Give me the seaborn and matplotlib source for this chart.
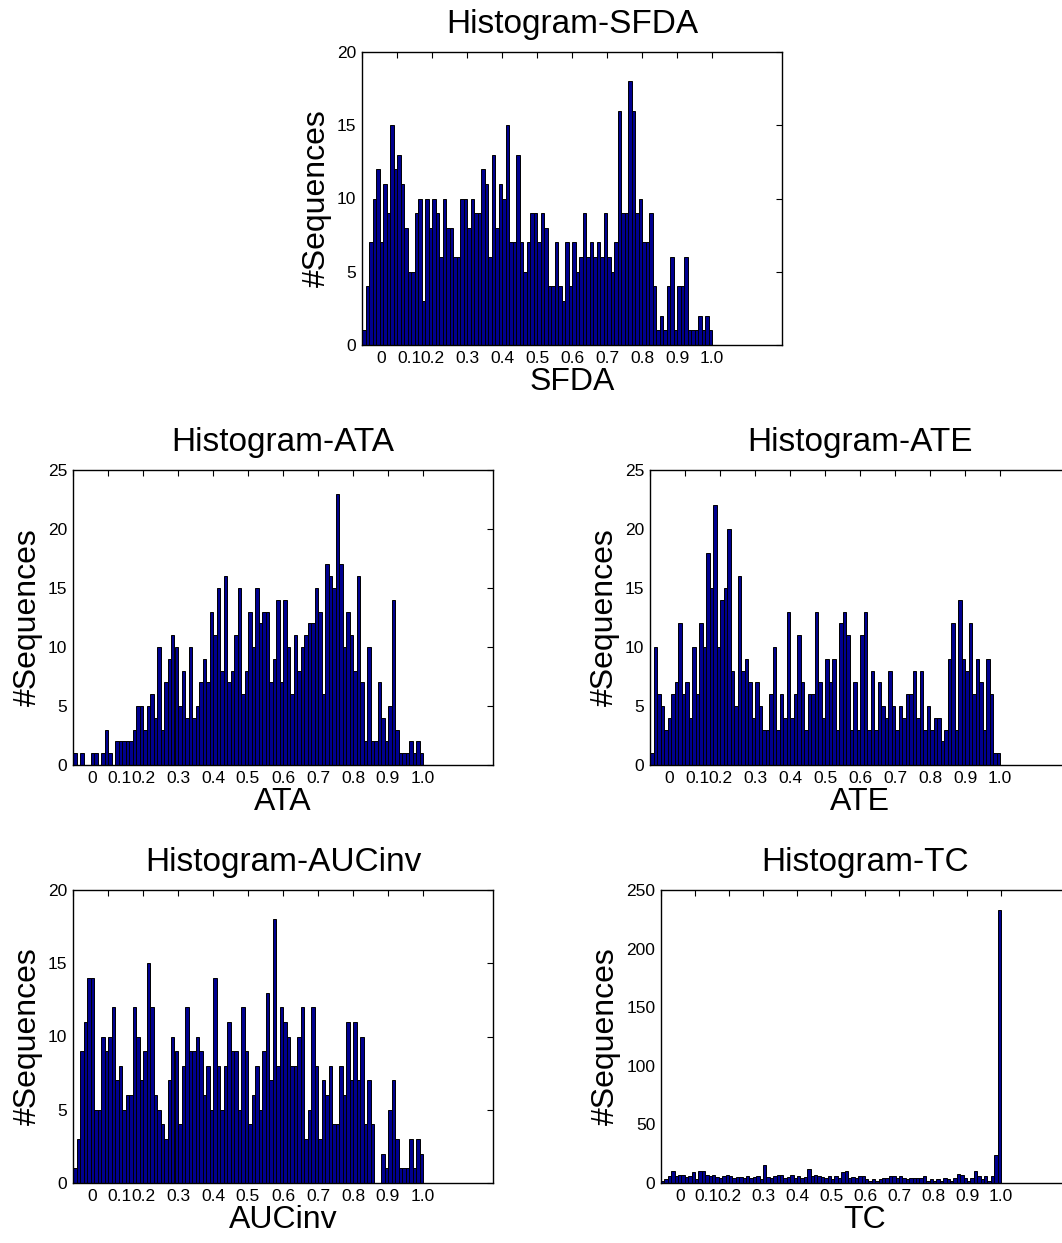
import numpy as np
import matplotlib
matplotlib.use("Agg")
import matplotlib.pyplot as plt
import matplotlib.transforms as mtransforms
import seaborn as sns

# bin counts, 100 bins of width 0.01 on [0, 1]
sfda = [1, 4, 7, 10, 12, 7, 11, 9, 15, 12, 13, 11, 8, 5, 5, 9, 10, 3, 10, 8,
        10, 9, 6, 10, 8, 8, 6, 6, 10, 10, 8, 10, 9, 9, 12, 11, 6, 13, 8, 11,
        10, 15, 7, 7, 13, 7, 5, 7, 9,
        9, 7, 9, 8, 4, 4, 7, 4, 3, 7, 4, 7, 5, 6, 9, 6, 7, 6, 7, 6,
        9, 6, 5, 7, 16, 9, 9, 18, 16, 9, 10, 7, 7, 9, 4, 1, 2, 1, 4, 6,
        1, 4, 4, 6, 1, 1, 1, 2, 1, 2, 1]

ata = [1, 0, 1, 0, 0, 1, 1, 0, 1, 3, 1, 0, 2, 2, 2, 2, 2, 3, 5, 5,
       3, 5, 6, 4, 10, 3, 7, 9, 11, 10, 5, 8, 4, 10, 4, 5, 7, 9, 7, 13,
       11, 15, 8, 16, 7, 8, 11, 15, 6, 8, 13, 10, 15, 12, 13, 13, 7, 9, 14, 7,
       14, 10, 6, 11, 8, 10, 11, 12, 12, 15, 13, 6, 17, 16, 15, 23, 17, 10, 13, 11,
       8, 16, 7, 2, 10, 2, 2, 7, 4, 2, 5, 14, 3, 1, 1, 1, 2, 1, 2, 1]

ate = [1, 10, 6, 5, 3, 4, 6, 7, 12, 6, 7, 4, 10, 6, 12, 10, 18, 15, 22, 10,
       14, 15, 20, 8, 5, 16, 8, 9, 7, 4, 7, 5, 3, 3, 6, 10, 3, 6, 4, 13,
       4, 6, 11, 7, 3, 6, 6, 13, 7, 4, 9, 7, 9, 3, 12, 13, 11, 3, 7, 3,
       11, 13, 3, 8, 3, 7, 5, 4, 8, 5, 3, 5, 4, 6, 6, 8, 4, 8, 3, 5,
       3, 4, 4, 2, 3, 9, 12, 3, 14, 9, 8, 12, 6, 9, 7, 3, 9, 6, 1, 1]

aucinv = [1, 3, 9, 11, 14, 14, 5, 5, 10, 9, 10, 12, 7, 8, 5, 6, 6, 12, 10, 7,
          9, 15, 12, 6, 5, 4, 3, 7, 10, 9, 4, 8, 12, 9, 9, 10, 9, 6, 8, 5,
          14, 8, 5, 8, 11, 9, 9, 5, 12, 9, 4, 6, 8, 5, 9, 13, 7, 18, 8, 12,
          11, 10, 8, 8, 10, 12, 3, 5, 12, 8, 3, 7, 6, 8, 4, 4, 8, 6, 11, 7,
          11, 7, 10, 4, 7, 4, 0, 0, 2, 1, 5, 7, 3, 1, 1, 1, 3, 1, 3, 2]

tc = [2, 3, 6, 10, 6, 7, 7, 5, 6, 9, 3, 10, 10, 7, 6, 7, 5, 4, 6, 7,
      6, 4, 5, 5, 4, 6, 4, 5, 6, 3, 15, 5, 4, 6, 7, 7, 4, 5, 7, 4,
      6, 4, 5, 12, 6, 7, 6, 5, 4, 6, 3, 6, 4, 9, 10, 4, 5, 4, 6, 6,
      3, 2, 3, 2, 3, 4, 4, 6, 6, 4, 6, 4, 3, 4, 4, 4, 4, 6, 2, 3,
      2, 3, 2, 4, 3, 2, 4, 8, 7, 4, 2, 4, 10, 6, 3, 6, 2, 6, 24, 233]

tick_vals = [0, 0.1, 0.2, 0.3, 0.4, 0.5, 0.6, 0.7, 0.8, 0.9, 1.0]
tick_text = ["0", "0.1", "0.2", "0.3", "0.4", "0.5", "0.6", "0.7", "0.8", "0.9", "1.0"]

centers = np.arange(100) / 100 + 0.005

sns.set_theme(style="white")
plt.rcParams["font.family"] = ["Liberation Sans", "DejaVu Sans"]
plt.rcParams["text.color"] = "black"
plt.rcParams["axes.labelcolor"] = "black"

W, H = 1062, 1243
fig = plt.figure(figsize=(W / 100, H / 100), dpi=100)


def px_axes(left, top, width, bottom):
    return fig.add_axes([left / W, 1 - bottom / H, width / W, (bottom - top) / H])


panels = [
    ("SFDA", sfda, (362, 52, 420, 345), 20, 5),
    ("ATA", ata, (73, 470, 420, 765), 25, 5),
    ("ATE", ate, (650, 470, 420, 765), 25, 5),
    ("AUCinv", aucinv, (73, 890, 420, 1183), 20, 5),
    ("TC", tc, (661, 890, 408, 1183), 250, 50),
]

for name, counts, box, ymax, ystep in panels:
    ax = px_axes(*box)
    samples = np.repeat(centers, counts)
    sns.histplot(x=samples, binwidth=0.01, binrange=(0, 1), ax=ax,
                 color="#00008f", edgecolor="black", linewidth=0.7, alpha=1)
    ax.set_xlim(0, 1.2)
    ax.set_ylim(0, ymax)
    ax.set_yticks(np.arange(0, ymax + 1, ystep))
    ax.set_xticks(tick_vals)
    ax.set_xticklabels(tick_text)
    ax.tick_params(direction="in", top=True, right=True, length=4, width=0.8,
                   labelsize=12.5, pad=4, colors="black")
    for sp in ax.spines.values():
        sp.set_color("black")
        sp.set_linewidth(1.0)
    # first two labels sit crowded to the right in the original
    lbls = ax.get_xticklabels()
    for lbl, dx in zip(lbls[:2], (0.19, 0.12)):
        lbl.set_transform(lbl.get_transform() +
                          mtransforms.ScaledTranslation(dx, 0, fig.dpi_scale_trans))
    ax.set_title("Histogram-" + name, fontsize=24, pad=14)
    ax.set_xlabel(name, fontsize=23, labelpad=1)
    ax.set_ylabel("#Sequences", fontsize=23, labelpad=4)

fig.savefig("out.png", dpi=100)
